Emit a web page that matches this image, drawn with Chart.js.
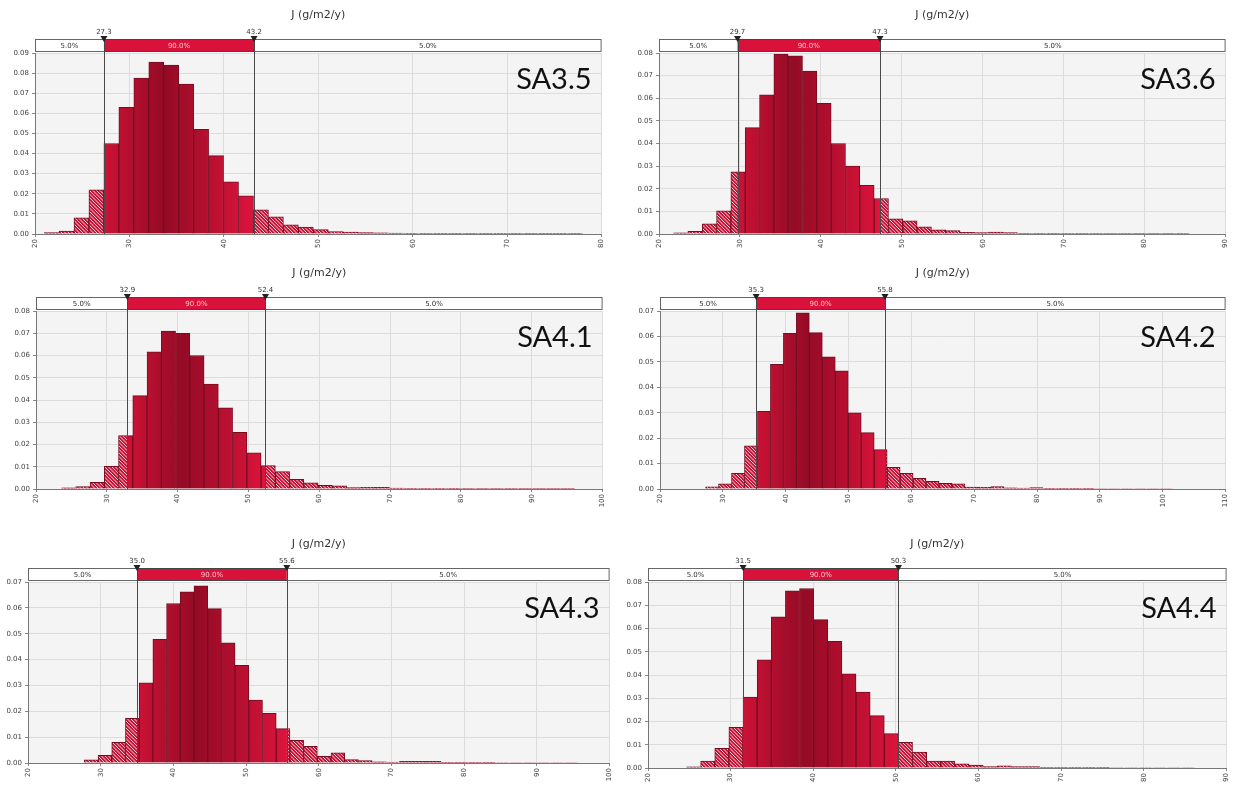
<!DOCTYPE html>
<html>
<head>
<meta charset="utf-8">
<script src="https://cdn.jsdelivr.net/npm/chart.js@4.4.1/dist/chart.umd.min.js"></script>
<style>
  html, body { margin: 0; padding: 0; background: #fff; }
  body { width: 1234px; height: 787px; position: relative; overflow: hidden; }
  canvas { position: absolute; }
</style>
</head>
<body>
<script>
// DATOS DE LOS HISTOGRAMAS
const panelNames = ['SA3.5', 'SA3.6', 'SA4.1', 'SA4.2', 'SA4.3', 'SA4.4']
const lowerCut = [27.3, 29.7, 32.9, 35.3, 35.0, 31.5]
const upperCut = [43.2, 47.3, 52.4, 55.8, 55.6, 50.3]
const binStart = [20.96, 21.8, 23.6, 27.25, 27.75, 24.66]
const binWidth = [1.584, 1.77, 2.013, 2.064, 1.885, 1.709]
const xMaxes = [80, 90, 100, 110, 100, 90]
const yMaxes = [0.09, 0.08, 0.08, 0.07, 0.07, 0.08]
const axisTitle = 'J (g/m2/y)'
const tailLabel = '5.0%'
const midLabel = '90.0%'

const sa35 = [0.0007, 0.0015, 0.008, 0.022, 0.045, 0.063, 0.0775, 0.0855, 0.084, 0.0745,
  0.052, 0.039, 0.026, 0.019, 0.012, 0.0085, 0.0045, 0.0035, 0.0022, 0.0012,
  0.0010, 0.0007, 0.0006, 0.0004, 0.0003, 0.0003, 0.0003, 0.0002, 0.0003, 0.0002,
  0.0002, 0.0002, 0.0002, 0.0002, 0.0002, 0.0002]
const sa36 = [0.0005, 0.0012, 0.0045, 0.0102, 0.0275, 0.047, 0.0615, 0.0795, 0.0787, 0.072,
  0.0577, 0.040, 0.030, 0.0215, 0.0157, 0.0067, 0.0058, 0.0032, 0.0018, 0.0015,
  0.0007, 0.0006, 0.0008, 0.0006, 0.0003, 0.0003, 0.0003, 0.0002, 0.0003, 0.0002,
  0.0002, 0.0002, 0.0002, 0.0002, 0.0002, 0.0002]
const sa41 = [0.0005, 0.0011, 0.003, 0.0102, 0.024, 0.042, 0.0617, 0.071, 0.070, 0.060,
  0.0472, 0.0365, 0.0255, 0.0163, 0.0105, 0.0078, 0.0043, 0.0028, 0.0016, 0.0014,
  0.0006, 0.0008, 0.0007, 0.0004, 0.0003, 0.0003, 0.0003, 0.0003, 0.0002, 0.0002,
  0.0002, 0.0002, 0.0002, 0.0002, 0.0002, 0.0002]
const sa42 = [0.0009, 0.002, 0.0062, 0.017, 0.0305, 0.049, 0.0612, 0.0693, 0.0615, 0.052,
  0.0465, 0.030, 0.0222, 0.0155, 0.0085, 0.0062, 0.0042, 0.003, 0.0022, 0.002,
  0.0008, 0.0007, 0.001, 0.0005, 0.0004, 0.0006, 0.0003, 0.0003, 0.0003, 0.0003,
  0.0002, 0.0002, 0.0002, 0.0002, 0.0002, 0.0002]
const sa43 = [0.0012, 0.003, 0.008, 0.0173, 0.031, 0.0478, 0.0617, 0.0662, 0.0685, 0.0597,
  0.0465, 0.0378, 0.0243, 0.0192, 0.0133, 0.0088, 0.0064, 0.0026, 0.0039, 0.0013,
  0.0009, 0.0005, 0.0004, 0.0006, 0.0006, 0.0006, 0.0003, 0.0003, 0.0003, 0.0003,
  0.0002, 0.0002, 0.0002, 0.0002, 0.0002, 0.0002]
const sa44 = [0.0005, 0.003, 0.0085, 0.0175, 0.0305, 0.0465, 0.065, 0.0762, 0.0772, 0.0638,
  0.0545, 0.0405, 0.0327, 0.0225, 0.0148, 0.011, 0.0068, 0.003, 0.003, 0.0018,
  0.0013, 0.0006, 0.0009, 0.0006, 0.0006, 0.0003, 0.0003, 0.0003, 0.0003, 0.0003,
  0.0002, 0.0002, 0.0002, 0.0002, 0.0002, 0.0002]
const densities = [sa35, sa36, sa41, sa42, sa43, sa44]

// posicion de cada area de grafico en la pagina
const boxes = [
  { left: 35, right: 604, top: 53, bottom: 234 },
  { left: 659, right: 1228, top: 53, bottom: 234 },
  { left: 36, right: 605, top: 311, bottom: 489 },
  { left: 660, right: 1228, top: 311, bottom: 489 },
  { left: 28, right: 612, top: 582, bottom: 763 },
  { left: 648, right: 1229, top: 582, bottom: 768 }
]
const PAD_TOP = 52
const Y_AXIS_W = 35
const X_AXIS_H = 28
const PAD_RIGHT = 8
const tinyFont = '"DejaVu Sans", sans-serif'

// relleno: rayado fuera de los cortes, degradado dentro
const fillCache = {}
const barFill = (context) => {
  const chart = context.chart
  const area = chart.chartArea
  if (!area || !chart.scales.x) return '#c8102e'
  const key = chart.id + '-' + area.left + '-' + area.right
  if (fillCache[key]) return fillCache[key]
  const opt = chart.options.plugins.riskBand
  const c = document.createElement('canvas')
  c.width = chart.width
  c.height = chart.height
  const g = c.getContext('2d')
  g.fillStyle = '#c81537'
  g.fillRect(0, 0, c.width, c.height)
  g.strokeStyle = 'rgba(255,236,240,0.95)'
  g.lineWidth = 0.9
  g.beginPath()
  for (let x = -c.height; x < c.width; x += 3.5) {
    g.moveTo(x, 0)
    g.lineTo(x + c.height, c.height)
  }
  g.stroke()
  const lo = chart.scales.x.getPixelForValue(opt.lo)
  const hi = chart.scales.x.getPixelForValue(opt.hi)
  const grad = g.createLinearGradient(lo, 0, hi, 0)
  grad.addColorStop(0, '#cc1236')
  grad.addColorStop(0.4, '#940b25')
  grad.addColorStop(1, '#dc143c')
  g.fillStyle = grad
  g.fillRect(lo, 0, hi - lo, c.height)
  fillCache[key] = chart.ctx.createPattern(c, 'no-repeat')
  return fillCache[key]
}

const riskBand = {
  id: 'riskBand',
  beforeDraw(chart) {
    const { ctx, chartArea: a } = chart
    ctx.save()
    ctx.fillStyle = '#f4f4f4'
    ctx.fillRect(a.left, a.top, a.right - a.left, a.bottom - a.top)
    ctx.restore()
  },
  afterDatasetsDraw(chart, args, opt) {
    const { ctx, chartArea: a } = chart
    const x = chart.scales.x
    const bTop = a.top - 14
    ctx.save()
    ctx.strokeStyle = '#4a4a4a'
    ctx.lineWidth = 1
    ;[opt.lo, opt.hi].forEach(v => {
      const px = Math.round(x.getPixelForValue(v)) + 0.5
      ctx.beginPath()
      ctx.moveTo(px, bTop + 12)
      ctx.lineTo(px, a.bottom)
      ctx.stroke()
    })
    // etiqueta grande
    ctx.fillStyle = '#111'
    ctx.font = '29px Lato, "Open Sans", sans-serif'
    ctx.textAlign = 'right'
    ctx.textBaseline = 'middle'
    ctx.fillText(opt.name, a.right - 10, a.top + 27)
    ctx.restore()
  },
  afterDraw(chart, args, opt) {
    const { ctx, chartArea: a } = chart
    const x = chart.scales.x
    const lo = x.getPixelForValue(opt.lo)
    const hi = x.getPixelForValue(opt.hi)
    const bTop = a.top - 14
    const bH = 12
    ctx.save()
    // titulo
    ctx.fillStyle = '#333'
    ctx.font = '11px ' + tinyFont
    ctx.textAlign = 'center'
    ctx.textBaseline = 'middle'
    ctx.fillText(axisTitle, (a.left + a.right) / 2, a.top - 38)
    // banda 5% / 90% / 5%
    ctx.fillStyle = '#fff'
    ctx.fillRect(a.left, bTop, a.right - a.left, bH)
    ctx.fillStyle = '#d8123a'
    ctx.fillRect(lo, bTop, hi - lo, bH)
    ctx.strokeStyle = '#666'
    ctx.lineWidth = 1
    ctx.strokeRect(a.left + 0.5, bTop + 0.5, a.right - a.left - 1, bH)
    ctx.strokeStyle = '#444'
    ctx.strokeRect(Math.round(lo) + 0.5, bTop + 0.5, Math.round(hi - lo), bH)
    ctx.font = '7px ' + tinyFont
    ctx.fillStyle = '#333'
    ctx.fillText(tailLabel, (a.left + lo) / 2, bTop + bH / 2 + 1)
    ctx.fillText(tailLabel, (hi + a.right) / 2, bTop + bH / 2 + 1)
    ctx.fillStyle = '#f7c4cf'
    ctx.fillText(midLabel, (lo + hi) / 2, bTop + bH / 2 + 1)
    // marcas de los cortes
    ;[[opt.lo, lo], [opt.hi, hi]].forEach(([v, px]) => {
      ctx.fillStyle = '#222'
      ctx.beginPath()
      ctx.moveTo(px - 3.5, bTop - 3)
      ctx.lineTo(px + 3.5, bTop - 3)
      ctx.lineTo(px, bTop + 3)
      ctx.closePath()
      ctx.fill()
      ctx.fillStyle = '#333'
      ctx.font = '7px ' + tinyFont
      ctx.textBaseline = 'alphabetic'
      ctx.fillText(v.toFixed(1), px, bTop - 5)
      ctx.textBaseline = 'middle'
    })
    ctx.restore()
  }
}

const makePanel = (i) => {
  const box = boxes[i]
  const canvas = document.createElement('canvas')
  const w = box.right - box.left + Y_AXIS_W + PAD_RIGHT
  const h = box.bottom - box.top + PAD_TOP + X_AXIS_H
  canvas.width = w
  canvas.height = h
  canvas.style.left = (box.left - Y_AXIS_W) + 'px'
  canvas.style.top = (box.top - PAD_TOP) + 'px'
  canvas.style.width = w + 'px'
  canvas.style.height = h + 'px'
  document.body.appendChild(canvas)

  const points = densities[i].map((v, j) => ({ x: binStart[i] + binWidth[i] * (j + 0.5), y: v }))

  new Chart(canvas, {
    type: 'bar',
    data: {
      datasets: [{
        data: points,
        backgroundColor: barFill,
        borderColor: '#760c20',
        borderWidth: 1,
        borderSkipped: 'bottom',
        barPercentage: 1,
        categoryPercentage: 1
      }]
    },
    options: {
      responsive: false,
      animation: false,
      devicePixelRatio: 1,
      layout: { padding: { top: PAD_TOP, right: PAD_RIGHT, left: 0, bottom: 0 } },
      plugins: {
        legend: { display: false },
        tooltip: { enabled: false },
        riskBand: { lo: lowerCut[i], hi: upperCut[i], name: panelNames[i] }
      },
      scales: {
        x: {
          type: 'linear',
          min: 20,
          max: xMaxes[i],
          offset: false,
          grid: { color: '#dcdcdc', tickLength: 3, tickColor: '#888', offset: false },
          border: { color: '#777' },
          ticks: {
            stepSize: 10,
            autoSkip: false,
            minRotation: 90,
            maxRotation: 90,
            padding: 2,
            color: '#444',
            font: { size: 7, family: tinyFont }
          },
          afterFit: (s) => { s.height = X_AXIS_H }
        },
        y: {
          min: 0,
          max: yMaxes[i],
          grid: { color: '#dcdcdc', tickLength: 3, tickColor: '#888' },
          border: { color: '#777' },
          ticks: {
            stepSize: 0.01,
            padding: 3,
            color: '#444',
            font: { size: 7, family: tinyFont },
            callback: (v) => v.toFixed(2)
          },
          afterFit: (s) => { s.width = Y_AXIS_W }
        }
      }
    },
    plugins: [riskBand]
  })
}

panelNames.forEach((n, i) => makePanel(i))
</script>
</body>
</html>
